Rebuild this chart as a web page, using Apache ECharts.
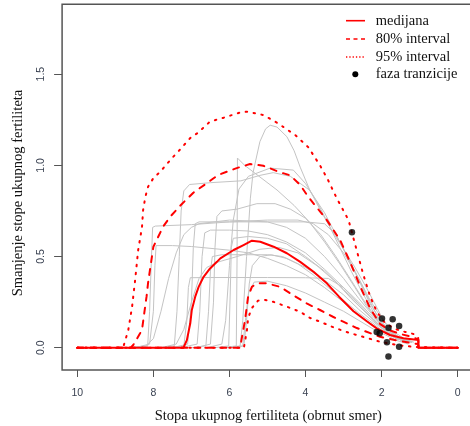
<!DOCTYPE html>
<html><head><meta charset="utf-8">
<script src="https://cdn.jsdelivr.net/npm/echarts@6/dist/echarts.min.js"></script>
<style>html,body{margin:0;padding:0;background:#fff;overflow:hidden}#c{width:480px;height:426px}</style>
</head><body><div id="c"></div>
<script>
// ---- tick labels ----
const xTicks = [0, 2, 4, 6, 8, 10];
const yTicks = [0, 0.5, 1.0, 1.5];

// ---- red summary curves: [TFR, decrement] ----
const median = [[10,0],[7.21,0],[7.12,0.042],[7.03,0.134],[6.99,0.207],[6.90,0.28],[6.81,0.334],[6.68,0.389],[6.51,0.435],[6.33,0.471],[6.24,0.49],[5.89,0.536],[5.63,0.563],[5.41,0.587],[5.19,0.581],[4.84,0.554],[4.49,0.518],[4.14,0.471],[3.79,0.417],[3.44,0.353],[3.12,0.28],[2.74,0.2],[2.39,0.145],[2.13,0.106],[1.78,0.07],[1.43,0.052],[1.03,0.042],[1.03,0],[0,0]];
const ci80Upper = [[10,0],[8.6,0],[8.53,0.015],[8.30,0.097],[8.24,0.19],[8.18,0.28],[8.14,0.355],[8.0,0.554],[7.74,0.665],[7.56,0.718],[7.29,0.78],[6.95,0.85],[6.59,0.903],[6.30,0.947],[5.81,0.985],[5.46,1.007],[5.11,0.998],[4.67,0.962],[4.40,0.945],[4.14,0.892],[3.93,0.828],[3.70,0.768],[3.44,0.70],[3.09,0.59],[2.83,0.47],[2.57,0.34],[2.3,0.215],[2.04,0.13],[1.78,0.095],[1.5,0.075],[1.17,0.058],[1.04,0.045],[1.03,0],[0,0]];
const ci80Lower = [[10,0],[5.72,0],[5.67,0.06],[5.59,0.152],[5.51,0.28],[5.41,0.334],[5.28,0.353],[5.02,0.353],[4.67,0.334],[4.33,0.289],[3.97,0.243],[3.62,0.207],[3.28,0.17],[3.01,0.143],[2.65,0.108],[2.30,0.08],[2.04,0.06],[1.52,0.037],[1.04,0.02],[1.03,0],[0,0]];
const ci95Upper = [[10,0],[8.85,0],[8.79,0.005],[8.66,0.097],[8.56,0.225],[8.48,0.371],[8.40,0.536],[8.30,0.66],[8.27,0.755],[8.21,0.828],[8.14,0.883],[8.0,0.93],[7.82,0.965],[7.51,1.04],[7.35,1.075],[7.03,1.15],[6.82,1.18],[6.51,1.24],[6.17,1.26],[5.72,1.29],[5.54,1.294],[5.11,1.276],[4.72,1.23],[4.27,1.166],[3.93,1.10],[3.62,1.0],[3.41,0.92],[3.18,0.82],[2.87,0.70],[2.74,0.6],[2.61,0.5],[2.48,0.4],[2.3,0.28],[2.13,0.2],[1.95,0.145],[1.78,0.12],[1.6,0.1],[1.4,0.088],[1.17,0.076],[1.04,0.06],[1.03,0],[0,0]];
const ci95Lower = [[10,0],[5.62,0],[5.54,0.097],[5.51,0.163],[5.41,0.218],[5.25,0.258],[5.06,0.262],[4.85,0.252],[4.49,0.225],[4.14,0.197],[3.88,0.163],[3.62,0.143],[3.22,0.108],[2.83,0.08],[2.49,0.06],[2.04,0.033],[1.60,0.015],[1.17,0.005],[1.04,0.003],[0,0]];

// ---- transition-phase points ----
const transitionTFR = [2.78, 1.99, 1.71, 1.82, 1.54, 2.13, 2.05, 1.86, 1.54, 1.82];
const transitionDec = [0.633, 0.161, 0.156, 0.11, 0.119, 0.087, 0.08, 0.03, 0.005, -0.048];

// ---- observed country trajectories (grey) ----
const grey1 = [[8.6,0],[8.15,0.01],[8.1,0.2],[8.05,0.5],[8.02,0.66],[7.95,0.667],[7.0,0.675],[6.0,0.69],[5.0,0.70],[4.2,0.70],[3.8,0.68],[3.4,0.62],[3.0,0.52],[2.6,0.38],[2.3,0.26],[2.0,0.16],[1.7,0.09],[1.4,0.05],[1.15,0.03]];
const grey2 = [[8.5,0],[8.1,0.02],[8.0,0.2],[7.96,0.45],[7.93,0.56],[7.5,0.56],[7.0,0.555],[6.0,0.535],[5.5,0.52],[5.0,0.49],[4.5,0.45],[4.0,0.4],[3.5,0.33],[3.0,0.25],[2.6,0.18],[2.2,0.12],[1.9,0.08],[1.6,0.05],[1.3,0.03]];
const grey3 = [[8.6,0],[8.2,0.01],[8.0,0.05],[7.8,0.2],[7.6,0.38],[7.4,0.52],[7.2,0.62],[7.0,0.66],[6.8,0.68],[6.0,0.7],[5.0,0.69],[4.5,0.66],[4.0,0.6],[3.5,0.5],[3.0,0.38],[2.6,0.27],[2.2,0.17],[1.9,0.1],[1.6,0.06],[1.3,0.03]];
const grey4 = [[7.9,0],[7.45,0.01],[7.38,0.2],[7.32,0.5],[7.27,0.75],[7.2,0.86],[7.05,0.895],[6.5,0.905],[5.7,0.915],[5.2,0.945],[4.85,0.96],[4.4,0.94],[3.9,0.865],[3.5,0.74],[3.1,0.58],[2.7,0.42],[2.4,0.29],[2.1,0.17],[1.8,0.09],[1.5,0.05],[1.2,0.03]];
const grey5 = [[7.6,0],[7.2,0.01],[7.12,0.15],[7.08,0.33],[7.03,0.384],[6.5,0.385],[5.0,0.385],[4.0,0.384],[3.4,0.38],[3.0,0.33],[2.6,0.25],[2.2,0.16],[1.9,0.1],[1.6,0.06],[1.3,0.03]];
const grey6 = [[7.5,0],[7.1,0.02],[7.0,0.25],[6.95,0.55],[6.9,0.68],[6.8,0.69],[6.0,0.69],[5.0,0.69],[4.0,0.69],[3.5,0.68],[3.2,0.62],[2.9,0.5],[2.6,0.37],[2.3,0.24],[2.0,0.14],[1.7,0.08],[1.4,0.04],[1.2,0.03]];
const grey7 = [[7.3,0],[6.85,0.02],[6.78,0.2],[6.72,0.5],[6.65,0.63],[6.5,0.645],[6.0,0.645],[5.5,0.64],[5.0,0.62],[4.5,0.58],[4.0,0.52],[3.5,0.43],[3.0,0.33],[2.6,0.24],[2.2,0.15],[1.9,0.09],[1.6,0.05],[1.3,0.03]];
const grey8 = [[6.9,0],[6.5,0.02],[6.42,0.25],[6.38,0.55],[6.33,0.72],[6.2,0.75],[5.8,0.76],[5.28,0.79],[4.8,0.79],[4.4,0.76],[4.0,0.71],[3.6,0.62],[3.2,0.5],[2.8,0.37],[2.5,0.27],[2.2,0.18],[1.9,0.11],[1.6,0.06],[1.3,0.03]];
const grey9 = [[6.2,0],[5.82,0.01],[5.8,0.5],[5.79,1.04],[5.6,1.0],[5.38,0.965],[4.75,0.865],[4.3,0.78],[3.9,0.69],[3.5,0.58],[3.1,0.46],[2.7,0.33],[2.4,0.23],[2.1,0.15],[1.8,0.09],[1.5,0.05],[1.2,0.03]];
const grey10 = [[6.1,0],[5.72,0.01],[5.65,0.15],[5.55,0.5],[5.45,0.82],[5.38,0.96],[5.2,1.13],[5.05,1.2],[4.93,1.22],[4.75,1.21],[4.49,1.157],[4.3,1.08],[4.14,0.99],[3.9,0.87],[3.6,0.75],[3.3,0.64],[3.0,0.54],[2.7,0.44],[2.4,0.33],[2.2,0.25],[2.0,0.17],[1.8,0.1],[1.5,0.05],[1.2,0.03]];
const grey11 = [[6.4,0],[6.02,0.01],[5.98,0.3],[5.95,0.55],[5.9,0.6],[5.5,0.61],[5.0,0.6],[4.5,0.57],[4.0,0.5],[3.5,0.42],[3.0,0.32],[2.6,0.23],[2.2,0.15],[1.9,0.09],[1.6,0.05],[1.3,0.03]];
const grey12 = [[6.0,0],[5.62,0.01],[5.55,0.15],[5.48,0.35],[5.4,0.45],[5.2,0.5],[4.9,0.51],[4.5,0.49],[4.0,0.44],[3.5,0.37],[3.0,0.29],[2.6,0.21],[2.2,0.14],[1.9,0.09],[1.6,0.05],[1.3,0.03]];
const grey13 = [[6.0,0],[5.65,0.01],[5.58,0.15],[5.5,0.3],[5.35,0.36],[5.0,0.365],[4.5,0.34],[4.0,0.3],[3.5,0.25],[3.0,0.2],[2.6,0.15],[2.2,0.1],[1.9,0.07],[1.6,0.04],[1.3,0.02]];
const grey14 = [[6.6,0],[6.2,0.02],[6.1,0.15],[6.0,0.45],[5.9,0.7],[5.75,0.87],[5.5,0.94],[4.93,0.985],[4.32,0.974],[4.0,0.9],[3.7,0.8],[3.4,0.68],[3.1,0.55],[2.8,0.42],[2.5,0.3],[2.2,0.19],[1.9,0.11],[1.6,0.06],[1.3,0.03]];
const grey15 = [[7.0,0],[6.62,0.01],[6.55,0.2],[6.5,0.42],[6.45,0.5],[6.2,0.51],[5.0,0.51],[4.6,0.5],[4.2,0.46],[3.8,0.4],[3.4,0.33],[3.0,0.26],[2.6,0.19],[2.2,0.13],[1.9,0.08],[1.6,0.05],[1.3,0.03]];
const grey16 = [[7.8,0],[7.4,0.02],[7.2,0.1],[7.0,0.25],[6.8,0.38],[6.6,0.44],[6.3,0.47],[5.8,0.5],[5.2,0.54],[4.7,0.55],[4.2,0.52],[3.7,0.45],[3.2,0.36],[2.8,0.27],[2.4,0.19],[2.1,0.13],[1.8,0.08],[1.5,0.05],[1.2,0.03]];
const greyCurves = [grey1, grey2, grey3, grey4, grey5, grey6, grey7, grey8, grey9, grey10, grey11, grey12, grey13, grey14, grey15, grey16];

const legendLabels = ['medijana', '80% interval', '95% interval', 'faza tranzicije'];
const xTitle = 'Stopa ukupnog fertiliteta (obrnut smer)';
const yTitle = 'Smanjenje stope ukupnog fertiliteta';

const RED = '#ff0000';
const SERIF = '"Liberation Serif", "Times New Roman", serif';
const SANS = '"Liberation Sans", Arial, sans-serif';

const series = [];
greyCurves.forEach((c, i) => series.push({
  type: 'line', name: 'g' + i, data: c, showSymbol: false, symbol: 'none', silent: true,
  lineStyle: { color: '#c4c4c4', width: 1 }, z: 2, animation: false
}));
function redLine(name, data, dash, cap) {
  return { type: 'line', name: name, data: data, showSymbol: false, symbol: 'none', silent: true,
    lineStyle: { color: RED, width: 2, type: dash, cap: cap || 'butt', join: 'round' }, z: 3, animation: false };
}
series.push(redLine('95u', ci95Upper, [1.5, 6.5], 'round'));
series.push(redLine('95l', ci95Lower, [1.5, 6.5], 'round'));
series.push(redLine('80u', ci80Upper, [6, 7], 'round'));
series.push(redLine('80l', ci80Lower, [6, 7], 'round'));
series.push(redLine('med', median, 'solid', 'round'));
series.push({
  type: 'scatter', data: transitionTFR.map((x, i) => [x, transitionDec[i]]),
  symbol: 'circle', symbolSize: 6.5, itemStyle: { color: '#000' }, z: 4, silent: true, animation: false
});

const legendY = [20.7, 39, 57, 74.3];
const graphic = [
  { type: 'text', x: 268.3, y: 416.5, style: { text: xTitle, font: '14.5px ' + SERIF, fill: '#111', textAlign: 'center', textVerticalAlign: 'middle' } },
  { type: 'text', x: 18.3, y: 193, rotation: Math.PI / 2, style: { text: yTitle, font: '14.5px ' + SERIF, fill: '#111', textAlign: 'center', textVerticalAlign: 'middle' } },
  { type: 'line', shape: { x1: 346, y1: legendY[0], x2: 365, y2: legendY[0] }, style: { stroke: RED, lineWidth: 1.6 } },
  { type: 'line', shape: { x1: 346, y1: legendY[1], x2: 365, y2: legendY[1] }, style: { stroke: RED, lineWidth: 1.6, lineDash: [4, 3.5] } },
  { type: 'line', shape: { x1: 346, y1: legendY[2], x2: 365, y2: legendY[2] }, style: { stroke: RED, lineWidth: 1.6, lineDash: [1.3, 2] } },
  { type: 'circle', shape: { cx: 355.3, cy: legendY[3], r: 3 }, style: { fill: '#000' } }
];
legendLabels.forEach((t, i) => graphic.push({
  type: 'text', x: 375.7, y: legendY[i], style: { text: t, font: '14.5px ' + SERIF, fill: '#111', textAlign: 'left', textVerticalAlign: 'middle' }
}));

const chart = echarts.init(document.getElementById('c'), null, { renderer: 'canvas' });
chart.setOption({
  animation: false,
  backgroundColor: '#fff',
  grid: { left: 62.1, top: 4.3, width: 410.8, height: 365.7, show: true, borderColor: '#555', borderWidth: 1.5, backgroundColor: 'transparent' },
  xAxis: {
    type: 'value', inverse: true, min: -0.4, max: 10.4,
    axisLine: { show: false, onZero: false },
    splitLine: { show: false },
    axisTick: { show: true, customValues: xTicks, length: 7, lineStyle: { color: '#555', width: 1 } },
    axisLabel: { show: true, customValues: xTicks, margin: 18, fontSize: 10.5, fontFamily: SANS, color: '#3a4252', formatter: v => String(v) }
  },
  yAxis: {
    type: 'value', min: -0.122, max: 1.883,
    axisLine: { show: false, onZero: false },
    splitLine: { show: false },
    axisTick: { show: true, customValues: yTicks, length: 8, lineStyle: { color: '#555', width: 1 } },
    axisLabel: { show: true, customValues: yTicks, rotate: 90, margin: 15, fontSize: 10.5, fontFamily: SANS, color: '#3a4252', formatter: v => v.toFixed(1) }
  },
  series: series,
  graphic: graphic
});
</script></body></html>
